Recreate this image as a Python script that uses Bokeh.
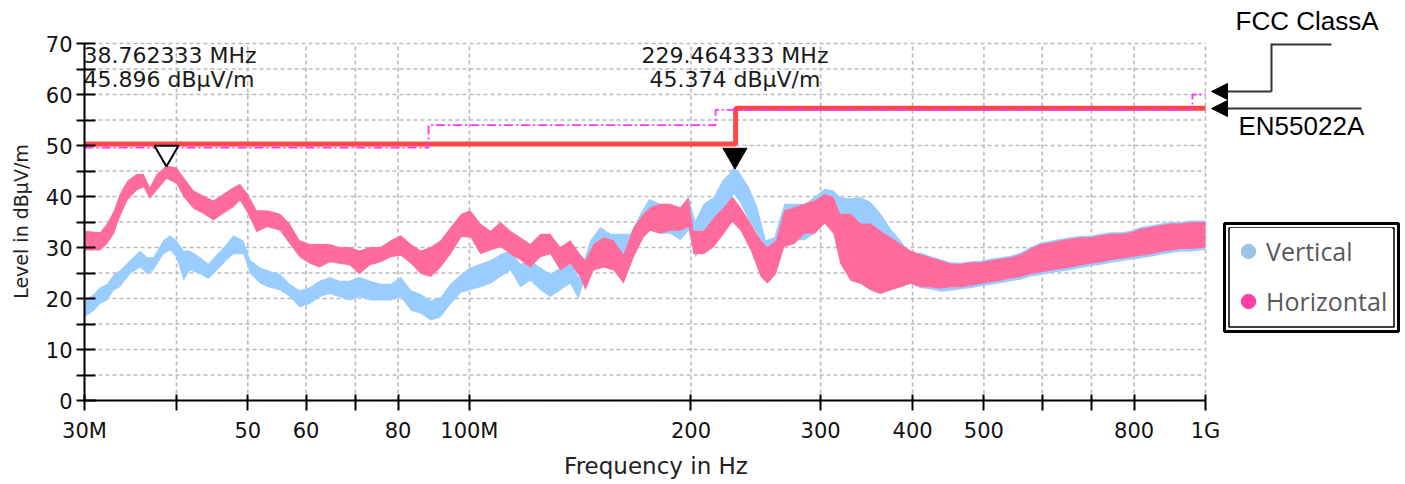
import math
from bokeh.plotting import figure
from bokeh.models import (FixedTicker, CustomJSTickFormatter, Label, Arrow, NormalHead,
                          Legend, LegendItem, BoxAnnotation)
from bokeh.embed import file_html
from bokeh.resources import INLINE

# ---------------- data (frequency in MHz, level in dBuV/m) ----------------
h_freq = [30.0, 31.5, 32.2, 32.9, 33.5, 34.3, 35.3, 36.1, 36.8, 37.6,
          38.8, 40.0, 40.9, 42.2, 43.5, 44.9, 46.3, 47.8, 48.8, 50.0,
          51.4, 53.1, 55.3, 57.0, 58.8, 60.7, 62.6, 64.6, 66.6, 68.7,
          70.9, 73.3, 75.7, 78.2, 80.7, 83.3, 85.9, 88.6, 91.4, 94.3,
          97.5, 100.3, 103.5, 106.8, 110.2, 113.7, 117.3, 121.0, 124.9, 128.8,
          132.9, 137.1, 141.5, 143.7, 147.5, 152.2, 157.0, 162.0, 167.2, 172.5,
          176.1, 181.7, 187.5, 193.4, 198.5, 201.6, 208.1, 214.8, 221.7, 227.6,
          233.6, 241.1, 248.8, 254.1, 260.9, 267.8, 276.4, 285.2, 294.4, 303.9,
          312.3, 319.0, 329.6, 340.0, 350.8, 362.0, 373.5, 385.2, 397.5, 410.2,
          423.2, 436.6, 450.5, 464.9, 479.7, 495.0, 510.7, 526.9, 543.6, 560.9,
          578.8, 597.2, 616.2, 635.8, 656.0, 676.9, 698.4, 720.7, 743.6, 767.3,
          791.7, 816.9, 842.9, 869.7, 897.4, 925.9, 955.4, 1000.0]
h_low = [29.4, 29.4, 30.7, 32.7, 35.9, 39.2, 41.2, 41.8, 39.5, 41.2,
         43.5, 42.5, 39.9, 37.6, 36.6, 35.3, 36.6, 37.9, 39.2, 36.6,
         33.0, 34.0, 33.3, 30.7, 28.1, 26.8, 26.1, 27.1, 26.8, 26.5,
         24.8, 26.5, 27.1, 28.1, 28.4, 26.8, 24.8, 24.2, 26.1, 28.7,
         32.0, 32.0, 28.7, 29.4, 30.1, 28.7, 27.5, 26.1, 28.1, 28.7,
         25.5, 26.8, 24.2, 21.6, 25.5, 26.1, 25.5, 22.9, 28.1, 32.0,
         33.3, 32.7, 33.3, 33.3, 34.0, 28.7, 28.7, 30.1, 32.7, 35.0,
         33.3, 29.4, 24.2, 22.9, 24.8, 30.1, 30.7, 32.7, 32.7, 34.7,
         32.7, 26.8, 23.5, 22.9, 21.6, 20.9, 21.6, 22.2, 22.9, 22.2,
         22.2, 21.9, 22.2, 22.2, 22.5, 22.9, 23.2, 23.5, 23.9, 24.2,
         24.8, 25.1, 25.5, 25.8, 26.1, 26.5, 26.8, 27.1, 27.5, 27.8,
         28.1, 28.4, 28.7, 29.1, 29.4, 29.7, 29.7, 30.0]
h_high = [33.3, 33.0, 34.7, 37.3, 40.5, 43.1, 44.4, 44.4, 41.8, 44.4,
          46.1, 45.7, 43.8, 41.2, 40.2, 39.2, 40.5, 41.8, 42.5, 40.5,
          37.3, 37.3, 36.6, 34.7, 31.4, 30.7, 30.7, 30.7, 30.1, 30.1,
          29.4, 30.1, 30.1, 31.4, 32.4, 30.7, 29.4, 30.1, 31.4, 34.0,
          36.6, 37.3, 34.7, 33.3, 35.0, 33.3, 32.0, 30.7, 32.7, 32.7,
          30.1, 31.4, 28.7, 27.5, 30.7, 32.0, 31.4, 28.7, 34.0, 36.6,
          37.9, 38.6, 38.6, 37.9, 39.9, 33.3, 33.3, 35.9, 37.9, 40.0,
          37.9, 34.7, 31.4, 30.1, 31.4, 37.3, 37.9, 38.6, 39.2, 40.5,
          39.9, 36.6, 36.6, 34.7, 34.7, 33.3, 32.0, 30.7, 29.4, 28.7,
          28.1, 27.5, 26.8, 26.8, 27.1, 27.1, 27.5, 27.8, 28.1, 28.7,
          29.8, 30.7, 31.0, 31.4, 31.7, 32.0, 32.0, 32.4, 32.7, 32.7,
          33.0, 33.7, 34.0, 34.4, 34.7, 34.7, 35.0, 35.0]

v_freq = [30.0, 30.9, 31.5, 32.2, 32.9, 33.5, 34.6, 35.7, 36.5, 37.2,
          38.4, 39.2, 40.0, 40.9, 41.7, 43.1, 44.2, 45.4, 46.8, 47.8,
          49.3, 50.4, 52.0, 53.3, 55.3, 57.0, 58.8, 60.7, 62.6, 64.6,
          66.6, 68.7, 70.9, 73.3, 75.7, 78.2, 80.7, 83.3, 85.9, 88.6,
          91.4, 94.3, 97.5, 100.3, 103.5, 106.8, 110.2, 113.7, 117.3, 121.0,
          124.9, 128.8, 132.9, 137.1, 140.7, 146.0, 150.6, 155.4, 160.3, 165.4,
          170.7, 175.5, 181.7, 187.5, 193.4, 198.5, 202.7, 208.1, 214.8, 220.5,
          225.2, 228.8, 233.6, 239.8, 246.2, 252.8, 259.5, 267.8, 276.4, 285.2,
          294.4, 303.9, 312.3, 319.0, 329.6, 340.0, 350.8, 362.0, 373.5, 385.2,
          397.5, 410.2, 423.2, 436.6, 450.5, 464.9, 479.7, 495.0, 510.7, 526.9,
          543.6, 560.9, 578.8, 597.2, 616.2, 635.8, 656.0, 676.9, 698.4, 720.7,
          743.6, 767.3, 791.7, 816.9, 842.9, 869.7, 897.4, 925.9, 955.4, 1000.0]
v_low = [16.3, 17.6, 18.9, 19.6, 21.6, 22.2, 24.8, 26.1, 24.8, 25.5,
         28.7, 29.4, 28.1, 23.5, 25.5, 24.8, 23.8, 25.5, 27.5, 28.7,
         28.7, 24.8, 22.9, 22.2, 21.6, 20.3, 18.3, 18.9, 20.3, 20.9,
         20.3, 19.6, 20.3, 19.6, 19.6, 19.6, 20.3, 17.6, 17.0, 15.7,
         16.3, 18.9, 21.2, 21.6, 22.2, 22.9, 24.2, 25.5, 22.2, 23.5,
         21.6, 20.3, 21.6, 22.9, 19.9, 27.5, 30.1, 28.7, 28.1, 28.7,
         32.7, 33.5, 32.7, 32.7, 31.4, 33.3, 28.1, 30.1, 32.7, 35.3,
         38.6, 40.5, 38.6, 35.3, 32.7, 27.5, 26.1, 30.7, 31.4, 31.4,
         32.7, 34.7, 34.0, 27.5, 23.5, 22.9, 21.6, 20.9, 21.6, 22.2,
         22.9, 22.0, 21.8, 21.3, 21.5, 21.8, 22.0, 22.4, 22.7, 23.0,
         23.4, 23.7, 24.3, 24.6, 25.0, 25.3, 25.6, 26.0, 26.3, 26.6,
         27.0, 27.3, 27.6, 27.9, 28.2, 28.6, 28.9, 29.2, 29.2, 29.5]
v_high = [19.6, 20.9, 22.2, 22.9, 24.8, 25.5, 27.5, 29.4, 28.1, 28.1,
          31.4, 32.4, 31.4, 29.4, 29.4, 28.1, 26.8, 28.7, 30.7, 32.4,
          31.4, 27.5, 26.1, 25.5, 24.8, 22.9, 21.6, 22.2, 23.5, 24.2,
          23.5, 23.5, 24.2, 23.5, 22.9, 22.9, 24.2, 21.6, 20.9, 19.6,
          20.3, 22.9, 24.8, 26.1, 26.8, 27.5, 28.7, 29.4, 26.8, 27.5,
          26.1, 24.8, 26.1, 27.5, 24.2, 31.4, 34.0, 32.7, 32.7, 32.7,
          36.6, 39.5, 38.6, 37.9, 37.3, 39.9, 35.3, 38.6, 39.9, 43.1,
          44.4, 46.0, 44.4, 41.8, 37.9, 31.4, 32.0, 38.6, 38.6, 38.6,
          39.9, 41.5, 41.2, 39.9, 39.6, 39.9, 38.9, 36.6, 33.7, 31.4,
          28.7, 29.0, 28.3, 27.7, 27.1, 27.0, 27.3, 27.4, 27.8, 28.1,
          28.4, 29.0, 30.1, 31.0, 31.3, 31.7, 32.0, 32.3, 32.3, 32.7,
          33.0, 33.0, 33.3, 34.0, 34.3, 34.7, 35.0, 35.0, 35.3, 35.3]

# limit lines
en_freq = [30, 230, 1000]
en_level = [50.3, 57.3, 57.3]
fcc_freq = [30, 88, 216, 960, 1000]
fcc_level = [49.6, 54.0, 57.0, 60.0, 60.0]
limit_names = ["FCC ClassA", "EN55022A"]

# markers
marker_freq = [38.762333, 229.464333]
marker_level = [45.896, 45.374]
marker_freq_text = ["38.762333 MHz", "229.464333 MHz"]
marker_level_text = ["45.896 dBµV/m", "45.374 dBµV/m"]

# axes
x_ticks_mhz = [30, 40, 50, 60, 70, 80, 100, 200, 300, 400, 500, 600, 700, 800, 1000]
x_tick_labels = ["30M", "", "50", "60", "", "80", "100M", "200", "300", "400", "500", "", "", "800", "1G"]
y_ticks = [0, 5, 10, 15, 20, 25, 30, 35, 40, 45, 50, 55, 60, 65, 70]
x_title = "Frequency in Hz"
y_title = "Level in dBµV/m"
series_names = ["Vertical", "Horizontal"]

# ---------------- layout (canvas pixels) ----------------
W, H = 1405, 484
CX0, CY0 = 84, 400            # canvas px of (30 MHz, 0 dB)
CX1, CY1 = 1205, 43           # canvas px of (1 GHz, 70 dB)
X0, X1 = 30e6, 1e9
Y0, Y1 = 0, 70
PXD = (CX1 - CX0) / math.log10(X1 / X0)        # px per decade
PPU = (CY0 - CY1) / (Y1 - Y0)                  # px per dB
BASE_FIX = 0.36                                 # baseline correction of Label text (em)


def fx(px):  # canvas px -> data x
    return X0 * 10 ** ((px - CX0) / PXD)


def fy(py):  # canvas py -> data y
    return Y0 + (CY0 - py) / PPU


p = figure(width=W, height=H, x_axis_type="log", x_range=(fx(0), fx(W)), y_range=(fy(H), fy(0)),
           output_backend="svg", toolbar_location=None, title=None,
           min_border_left=0, min_border_right=0, min_border_top=0, min_border_bottom=0)
p.outline_line_color = None
p.background_fill_color = "white"
p.border_fill_color = "white"
p.xgrid.visible = False
p.ygrid.visible = False

xt = [v * 1e6 for v in x_ticks_mhz]

# dashed grid, limited to the chart area
gstyle = dict(line_color="#bababa", line_dash="4 3", line_width=1.6)
p.segment(x0=xt, y0=[Y0] * len(xt), x1=xt, y1=[Y1] * len(xt), **gstyle)
p.segment(x0=[X0] * len(y_ticks), y0=y_ticks, x1=[X1] * len(y_ticks), y1=y_ticks, **gstyle)

# axes drawn at fixed positions inside the canvas
p.xaxis.fixed_location = Y0
p.yaxis.fixed_location = X0
p.xaxis.bounds = (X0, X1)
p.yaxis.bounds = (Y0, Y1)
p.xaxis.ticker = FixedTicker(ticks=xt, minor_ticks=[])
p.xaxis.formatter = CustomJSTickFormatter(args=dict(t=xt, l=x_tick_labels), code="""
for (let i = 0; i < t.length; i++) { if (Math.abs(t[i] - tick) < 1e-3 * t[i]) return l[i]; }
return '';""")
p.yaxis.ticker = FixedTicker(ticks=y_ticks, minor_ticks=[])
p.yaxis.formatter = CustomJSTickFormatter(code="return (Math.round(tick) % 10 == 0) ? String(Math.round(tick)) : '';")

for ax in (p.xaxis[0], p.yaxis[0]):
    ax.axis_line_color = "black"
    ax.axis_line_width = 2
    ax.major_tick_line_color = "black"
    ax.major_tick_line_width = 2
    ax.minor_tick_line_color = None
    ax.major_label_text_font = "DejaVu Sans"
    ax.major_label_text_font_size = "21px"
    ax.major_label_text_color = "#111111"

p.xaxis.major_tick_in = 6
p.xaxis.major_tick_out = 10
p.xaxis.major_label_standoff = 8
p.yaxis.major_tick_in = 11
p.yaxis.major_tick_out = 8
p.yaxis.major_label_standoff = 4


def label(px, py, text, font, size, color="#1a1a1a", align="left", angle=0.0):
    """place a text with its baseline at canvas (px, py)"""
    fix = BASE_FIX * size
    if angle == 0.0:
        x, y = fx(px), fy(py - fix)
    else:
        x, y = fx(px - fix), fy(py)
    p.add_layout(Label(x=x, y=y, text=text, text_font=font, text_font_size=f"{size}px",
                       text_color=color, text_align=align, text_baseline="alphabetic",
                       angle=angle))


# axis titles
label(655.5, 474, x_title, "DejaVu Sans", 23, color="#222222", align="center")
label(27, 221, y_title, "DejaVu Sans", 19, color="#222222", align="center", angle=math.pi / 2)

# traces
vf = [f * 1e6 for f in v_freq]
hf = [f * 1e6 for f in h_freq]
p.varea(x=vf, y1=v_low, y2=v_high, fill_color="#99ccff", fill_alpha=1.0)
p.varea(x=hf, y1=h_low, y2=h_high, fill_color="#ff6b9c", fill_alpha=1.0)

# limit lines
p.step(x=[f * 1e6 for f in en_freq], y=en_level, mode="after", line_color="#ff4747", line_width=5)
p.step(x=[f * 1e6 for f in fcc_freq], y=fcc_level, mode="after", line_color="#ff33ff",
       line_width=1.8, line_dash="9 3 2 3")

# markers (tip of the triangle on the measured point)
msize = 24
dy = (msize / 2) * math.sqrt(3) * 2 / 3 / PPU
p.scatter(x=[marker_freq[0] * 1e6], y=[marker_level[0] + dy], marker="inverted_triangle",
          size=msize, fill_color="white", line_color="black", line_width=2)
p.scatter(x=[marker_freq[1] * 1e6], y=[marker_level[1] + dy], marker="inverted_triangle",
          size=msize, fill_color="black", line_color="black", line_width=1)

m2x = CX0 + PXD * math.log10(marker_freq[1] * 1e6 / X0)
label(CX0 - 1, 62.7, marker_freq_text[0], "DejaVu Sans", 22)
label(CX0 - 1, 87.3, marker_level_text[0], "DejaVu Sans", 22)
label(m2x, 62.7, marker_freq_text[1], "DejaVu Sans", 22, align="center")
label(m2x, 87.3, marker_level_text[1], "DejaVu Sans", 22, align="center")

# limit annotations with arrows
label(1235, 30, limit_names[0], "Liberation Sans", 26, color="black")
label(1238, 135, limit_names[1], "Liberation Sans", 26, color="black")

lc = "#333333"
p.add_layout(Arrow(end=None, x_start=fx(1331), y_start=fy(44), x_end=fx(1271), y_end=fy(44),
                   line_color=lc, line_width=2))
p.add_layout(Arrow(end=None, x_start=fx(1271), y_start=fy(43), x_end=fx(1271), y_end=fy(91),
                   line_color=lc, line_width=2))
p.add_layout(Arrow(end=NormalHead(size=16, fill_color="black", line_color="black"),
                   x_start=fx(1271), y_start=fy(91), x_end=fx(1211), y_end=fy(91),
                   line_color=lc, line_width=2))
p.add_layout(Arrow(end=NormalHead(size=16, fill_color="black", line_color="black"),
                   x_start=fx(1361), y_start=fy(108), x_end=fx(1211), y_end=fy(108),
                   line_color=lc, line_width=2))

# legend (its renderers hold one point placed outside the view)
rv = p.scatter(x=[1e5], y=[-500], marker="circle", fill_color="#9dc3e6", line_color="#9dc3e6")
rh = p.scatter(x=[1e5], y=[-500], marker="circle", fill_color="#ff3fa4", line_color="#ff3fa4")
legend = Legend(items=[LegendItem(label=series_names[0], renderers=[rv]),
                       LegendItem(label=series_names[1], renderers=[rh])],
                location=(1230, H - 331 + 7), orientation="vertical",
                border_line_color=None,
                background_fill_color="white", background_fill_alpha=1.0,
                padding=6, spacing=4, margin=0,
                glyph_width=36, glyph_height=40, label_height=46, label_width=126,
                label_standoff=0,
                label_text_font="Open Sans", label_text_font_size="25px",
                label_text_color="#595959")
p.add_layout(legend)
p.add_layout(BoxAnnotation(left=fx(1224), right=fx(1398), top=fy(223), bottom=fy(331), level="overlay",
                           fill_color=None, fill_alpha=0, line_color="black", line_alpha=1.0,
                           line_width=3))
p.add_layout(BoxAnnotation(left=fx(1228.5), right=fx(1393.5), top=fy(227.5), bottom=fy(326.5),
                           level="overlay", fill_color=None, fill_alpha=0, line_color="black",
                           line_alpha=1.0, line_width=1.5))

open("out.html", "w").write(file_html(p, INLINE))
